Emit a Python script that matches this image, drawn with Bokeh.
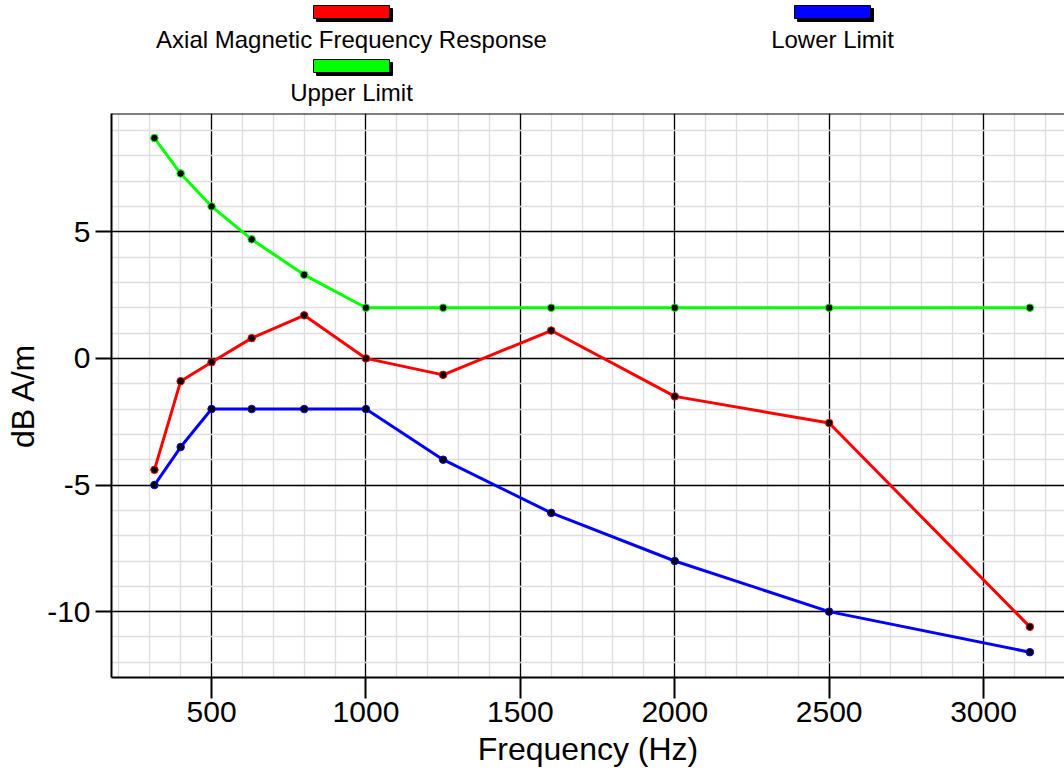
from bokeh.plotting import figure
from bokeh.models import (Range1d, SingleIntervalTicker, Span, ColumnDataSource,
                          PrintfTickFormatter)
from bokeh.layouts import column
from bokeh.embed import file_html
from bokeh.resources import INLINE
from bokeh.core.properties import value

# ---- data ----
freq = [315, 400, 500, 630, 800, 1000, 1250, 1600, 2000, 2500, 3150]
response = [-4.4, -0.9, -0.15, 0.8, 1.7, 0.0, -0.65, 1.1, -1.5, -2.55, -10.6]
upper = [8.7, 7.3, 6.0, 4.7, 3.3, 2.0, 2.0, 2.0, 2.0, 2.0, 2.0]
lower = [-5.0, -3.5, -2.0, -2.0, -2.0, -2.0, -4.0, -6.1, -8.0, -10.0, -11.6]

series_names = ["Axial Magnetic Frequency Response", "Lower Limit", "Upper Limit"]
series_colors = ["#ff0000", "#0000ff", "#00ff00"]
series_values = [response, lower, upper]

x_label = "Frequency (Hz)"
y_label = "dB A/m"

FONT = "Liberation Sans"
W = 1064
LEG_H = 108                       # height of the legend strip
H = 771 - LEG_H                   # height of the chart
BL, BT, BB = 111, 5, 94           # chart borders (left, top, bottom)
FW, FH = W - BL, H - BT - BB      # frame size

# ---- legend strip (its frame is aligned with the chart frame; ranges in page pixels) ----
leg = figure(width=W, height=LEG_H, x_range=Range1d(BL, W), y_range=Range1d(LEG_H, 0),
             x_axis_type=None, y_axis_type=None, toolbar_location=None,
             output_backend="svg", min_border=0, min_border_left=BL,
             min_border_right=0, outline_line_color=None)
leg.grid.visible = False

col_centers = [351, 832]
sw_w, sw_h, shadow = 76, 13, 3
ls, rs, ts, bs, lx, ly = [], [], [], [], [], []
for i, name in enumerate(series_names):
    col, row = i % 2, i // 2
    cx = col_centers[col]
    top = 5 + 54 * row
    ls.append(cx - sw_w / 2); rs.append(cx + sw_w / 2)
    ts.append(top); bs.append(top + sw_h)
    lx.append(cx); ly.append(39 + 53 * row)

leg.quad(left=[l + shadow for l in ls], right=[r + shadow for r in rs],
         top=[t + shadow for t in ts], bottom=[b + shadow for b in bs],
         fill_color="black", line_color="black")
leg.quad(left=ls, right=rs, top=ts, bottom=bs, fill_color=series_colors,
         line_color="black", line_width=1)
leg.text(x=lx, y=ly, text=series_names, text_align="center", text_baseline="alphabetic",
         text_font=value(FONT), text_font_size="24px", text_color="black")

# ---- main chart ----
px_per_hz = 0.3088
x_start = 176
x_end = x_start + FW / px_per_hz
y_start, y_end = -12.6, 9.67

p = figure(width=W, height=H, x_range=Range1d(x_start, x_end),
           y_range=Range1d(y_start, y_end), toolbar_location=None,
           output_backend="svg", min_border_left=BL, min_border_right=0,
           min_border_top=BT, min_border_bottom=BB, outline_line_color=None)

p.xaxis.ticker = SingleIntervalTicker(interval=500, num_minor_ticks=5)
p.yaxis.ticker = SingleIntervalTicker(interval=5, num_minor_ticks=5)
p.xgrid.ticker = p.xaxis.ticker
p.ygrid.ticker = p.yaxis.ticker
p.xaxis.formatter = PrintfTickFormatter(format="%d")
p.yaxis.formatter = PrintfTickFormatter(format="%d")

p.grid.grid_line_color = "black"
p.grid.grid_line_width = 1.3
p.grid.minor_grid_line_color = "#dedede"
p.grid.minor_grid_line_width = 1.3

for ax in (p.xaxis, p.yaxis):
    ax.axis_line_width = 2
    ax.axis_line_color = "black"
    ax.major_tick_line_width = 2
    ax.major_tick_line_color = "black"
    ax.major_tick_in = 0
    ax.minor_tick_in = 0
    ax.minor_tick_out = 0
    ax.major_label_text_font = FONT
    ax.major_label_text_font_size = "30px"
    ax.major_label_text_color = "black"
    ax.axis_label_text_font = FONT
    ax.axis_label_text_font_size = "32px"
    ax.axis_label_text_font_style = "normal"
    ax.axis_label_text_color = "black"

p.xaxis.major_tick_out = 21
p.xaxis.major_label_standoff = 3
p.xaxis.axis_label = x_label
p.xaxis.axis_label_standoff = 6
p.yaxis.major_tick_out = 16
p.yaxis.major_label_standoff = 5
p.yaxis.axis_label = y_label
p.yaxis.axis_label_standoff = 3

# top border of the frame
p.add_layout(Span(location=y_end, dimension="width", line_color="black", line_width=2))

for vals, color in zip(series_values, series_colors):
    src = ColumnDataSource(dict(x=freq, y=vals))
    p.line("x", "y", source=src, line_color=color, line_width=3)
    p.scatter("x", "y", source=src, size=7.5, fill_color="black",
              line_color=color, line_width=1)

layout = column(leg, p, spacing=0)
open("out.html", "w").write(file_html(layout, INLINE))
